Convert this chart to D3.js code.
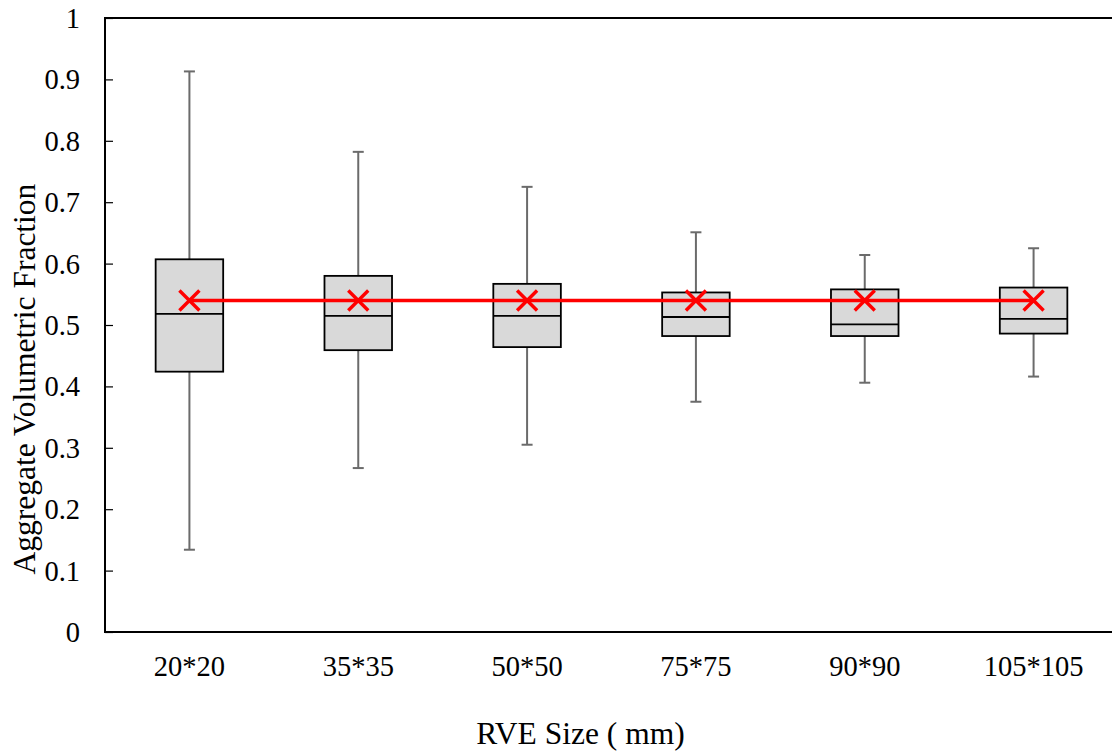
<!DOCTYPE html>
<html>
<head>
<meta charset="UTF-8">
<title>RVE size box plot</title>
<script src="https://d3js.org/d3.v7.min.js"></script>
<style>
  body { margin: 0; padding: 0; background: #fff; }
  svg { display: block; font-family: "Liberation Serif", "Times New Roman", serif; }
</style>
</head>
<body>
<svg width="1112" height="754"></svg>
<script>
// data
const sizes = ["20*20", "35*35", "50*50", "75*75", "90*90", "105*105"];
const whiskerLow  = [0.134, 0.267, 0.305, 0.375, 0.406, 0.416];
const q1          = [0.424, 0.459, 0.464, 0.482, 0.482, 0.486];
const medians     = [0.518, 0.515, 0.515, 0.513, 0.501, 0.510];
const q3          = [0.607, 0.580, 0.567, 0.553, 0.558, 0.561];
const whiskerHigh = [0.913, 0.782, 0.725, 0.651, 0.614, 0.625];
const means       = [0.540, 0.540, 0.540, 0.540, 0.540, 0.540];
const yTicks = d3.range(0, 1.0001, 0.1);

const svg = d3.select("svg");
const plotLeft = 105, plotRight = 1118, plotTop = 18, plotBottom = 632;

const x = d3.scaleBand().domain(sizes).range([plotLeft, plotRight]).padding(0);
const y = d3.scaleLinear().domain([0, 1]).range([plotBottom, plotTop]);

const rows = sizes.map((s, i) => ({
  size: s, lo: whiskerLow[i], q1: q1[i], med: medians[i],
  q3: q3[i], hi: whiskerHigh[i], mean: means[i]
}));

const boxW = x.bandwidth() * 0.4;
const capW = 11;
const cx = d => x(d.size) + x.bandwidth() / 2;

// frame
svg.append("line")
  .attr("x1", plotLeft).attr("x2", plotRight).attr("y1", plotTop).attr("y2", plotTop)
  .attr("stroke", "#000").attr("stroke-width", 2);
svg.append("line")
  .attr("x1", plotRight).attr("x2", plotRight).attr("y1", plotTop).attr("y2", plotBottom)
  .attr("stroke", "#000").attr("stroke-width", 2);

// y axis, ticks pointing inward
const yAxis = svg.append("g")
  .attr("transform", `translate(${plotLeft},0)`)
  .call(d3.axisRight(y).tickValues(yTicks).tickSize(8).tickFormat(""));
yAxis.select(".domain").remove();
yAxis.selectAll("line").attr("stroke", "#000").attr("stroke-width", 1.2);

svg.append("g").selectAll("text")
  .data(yTicks)
  .join("text")
  .attr("x", 80)
  .attr("y", d => y(d))
  .attr("dy", "0.35em")
  .attr("text-anchor", "end")
  .style("font-size", "28.5px")
  .text(d => d3.format("~g")(+d.toFixed(1)));

svg.append("line")
  .attr("x1", plotLeft).attr("x2", plotLeft).attr("y1", plotTop - 1).attr("y2", plotBottom + 1)
  .attr("stroke", "#000").attr("stroke-width", 2);
svg.append("line")
  .attr("x1", plotLeft - 1).attr("x2", plotRight).attr("y1", plotBottom).attr("y2", plotBottom)
  .attr("stroke", "#000").attr("stroke-width", 2);

// x labels
const xAxis = svg.append("g")
  .attr("transform", `translate(0,${plotBottom})`)
  .call(d3.axisBottom(x).tickSize(0).tickPadding(24));
xAxis.select(".domain").remove();
xAxis.selectAll("text")
  .attr("fill", "#000")
  .style("font-family", "Liberation Serif, serif")
  .style("font-size", "28.5px");

// whiskers
const g = svg.append("g");
g.selectAll("line.whisker")
  .data(rows).join("line")
  .attr("class", "whisker")
  .attr("x1", cx).attr("x2", cx)
  .attr("y1", d => y(d.lo)).attr("y2", d => y(d.hi))
  .attr("stroke", "#6b6b6b").attr("stroke-width", 2);
["lo", "hi"].forEach(k => {
  g.selectAll("line.cap-" + k)
    .data(rows).join("line")
    .attr("class", "cap-" + k)
    .attr("x1", d => cx(d) - capW / 2).attr("x2", d => cx(d) + capW / 2)
    .attr("y1", d => y(d[k])).attr("y2", d => y(d[k]))
    .attr("stroke", "#6b6b6b").attr("stroke-width", 2);
});

// boxes
g.selectAll("rect.box")
  .data(rows).join("rect")
  .attr("class", "box")
  .attr("x", d => cx(d) - boxW / 2)
  .attr("width", boxW)
  .attr("y", d => y(d.q3))
  .attr("height", d => y(d.q1) - y(d.q3))
  .attr("fill", "#d9d9d9")
  .attr("stroke", "#000").attr("stroke-width", 1.8);

g.selectAll("line.median")
  .data(rows).join("line")
  .attr("class", "median")
  .attr("x1", d => cx(d) - boxW / 2).attr("x2", d => cx(d) + boxW / 2)
  .attr("y1", d => y(d.med)).attr("y2", d => y(d.med))
  .attr("stroke", "#000").attr("stroke-width", 1.8);

// mean line and markers
svg.append("path")
  .datum(rows)
  .attr("d", d3.line().x(cx).y(d => y(d.mean)))
  .attr("fill", "none")
  .attr("stroke", "#ff0000")
  .attr("stroke-width", 3.6);

const m = 10;
svg.append("g").selectAll("path")
  .data(rows).join("path")
  .attr("d", d => {
    const px = cx(d), py = y(d.mean);
    return `M${px - m},${py - m}L${px + m},${py + m}M${px - m},${py + m}L${px + m},${py - m}`;
  })
  .attr("stroke", "#ff0000")
  .attr("stroke-width", 3.4)
  .attr("fill", "none");

// axis titles
svg.append("text")
  .attr("x", (plotLeft + plotRight) / 2 - 31)
  .attr("y", 744)
  .attr("text-anchor", "middle")
  .style("font-size", "31.5px")
  .text("RVE Size ( mm)");

svg.append("text")
  .attr("transform", `translate(35,${(plotTop + plotBottom) / 2 + 54}) rotate(-90)`)
  .attr("text-anchor", "middle")
  .style("font-size", "31.5px")
  .text("Aggregate Volumetric Fraction");
</script>
</body>
</html>
